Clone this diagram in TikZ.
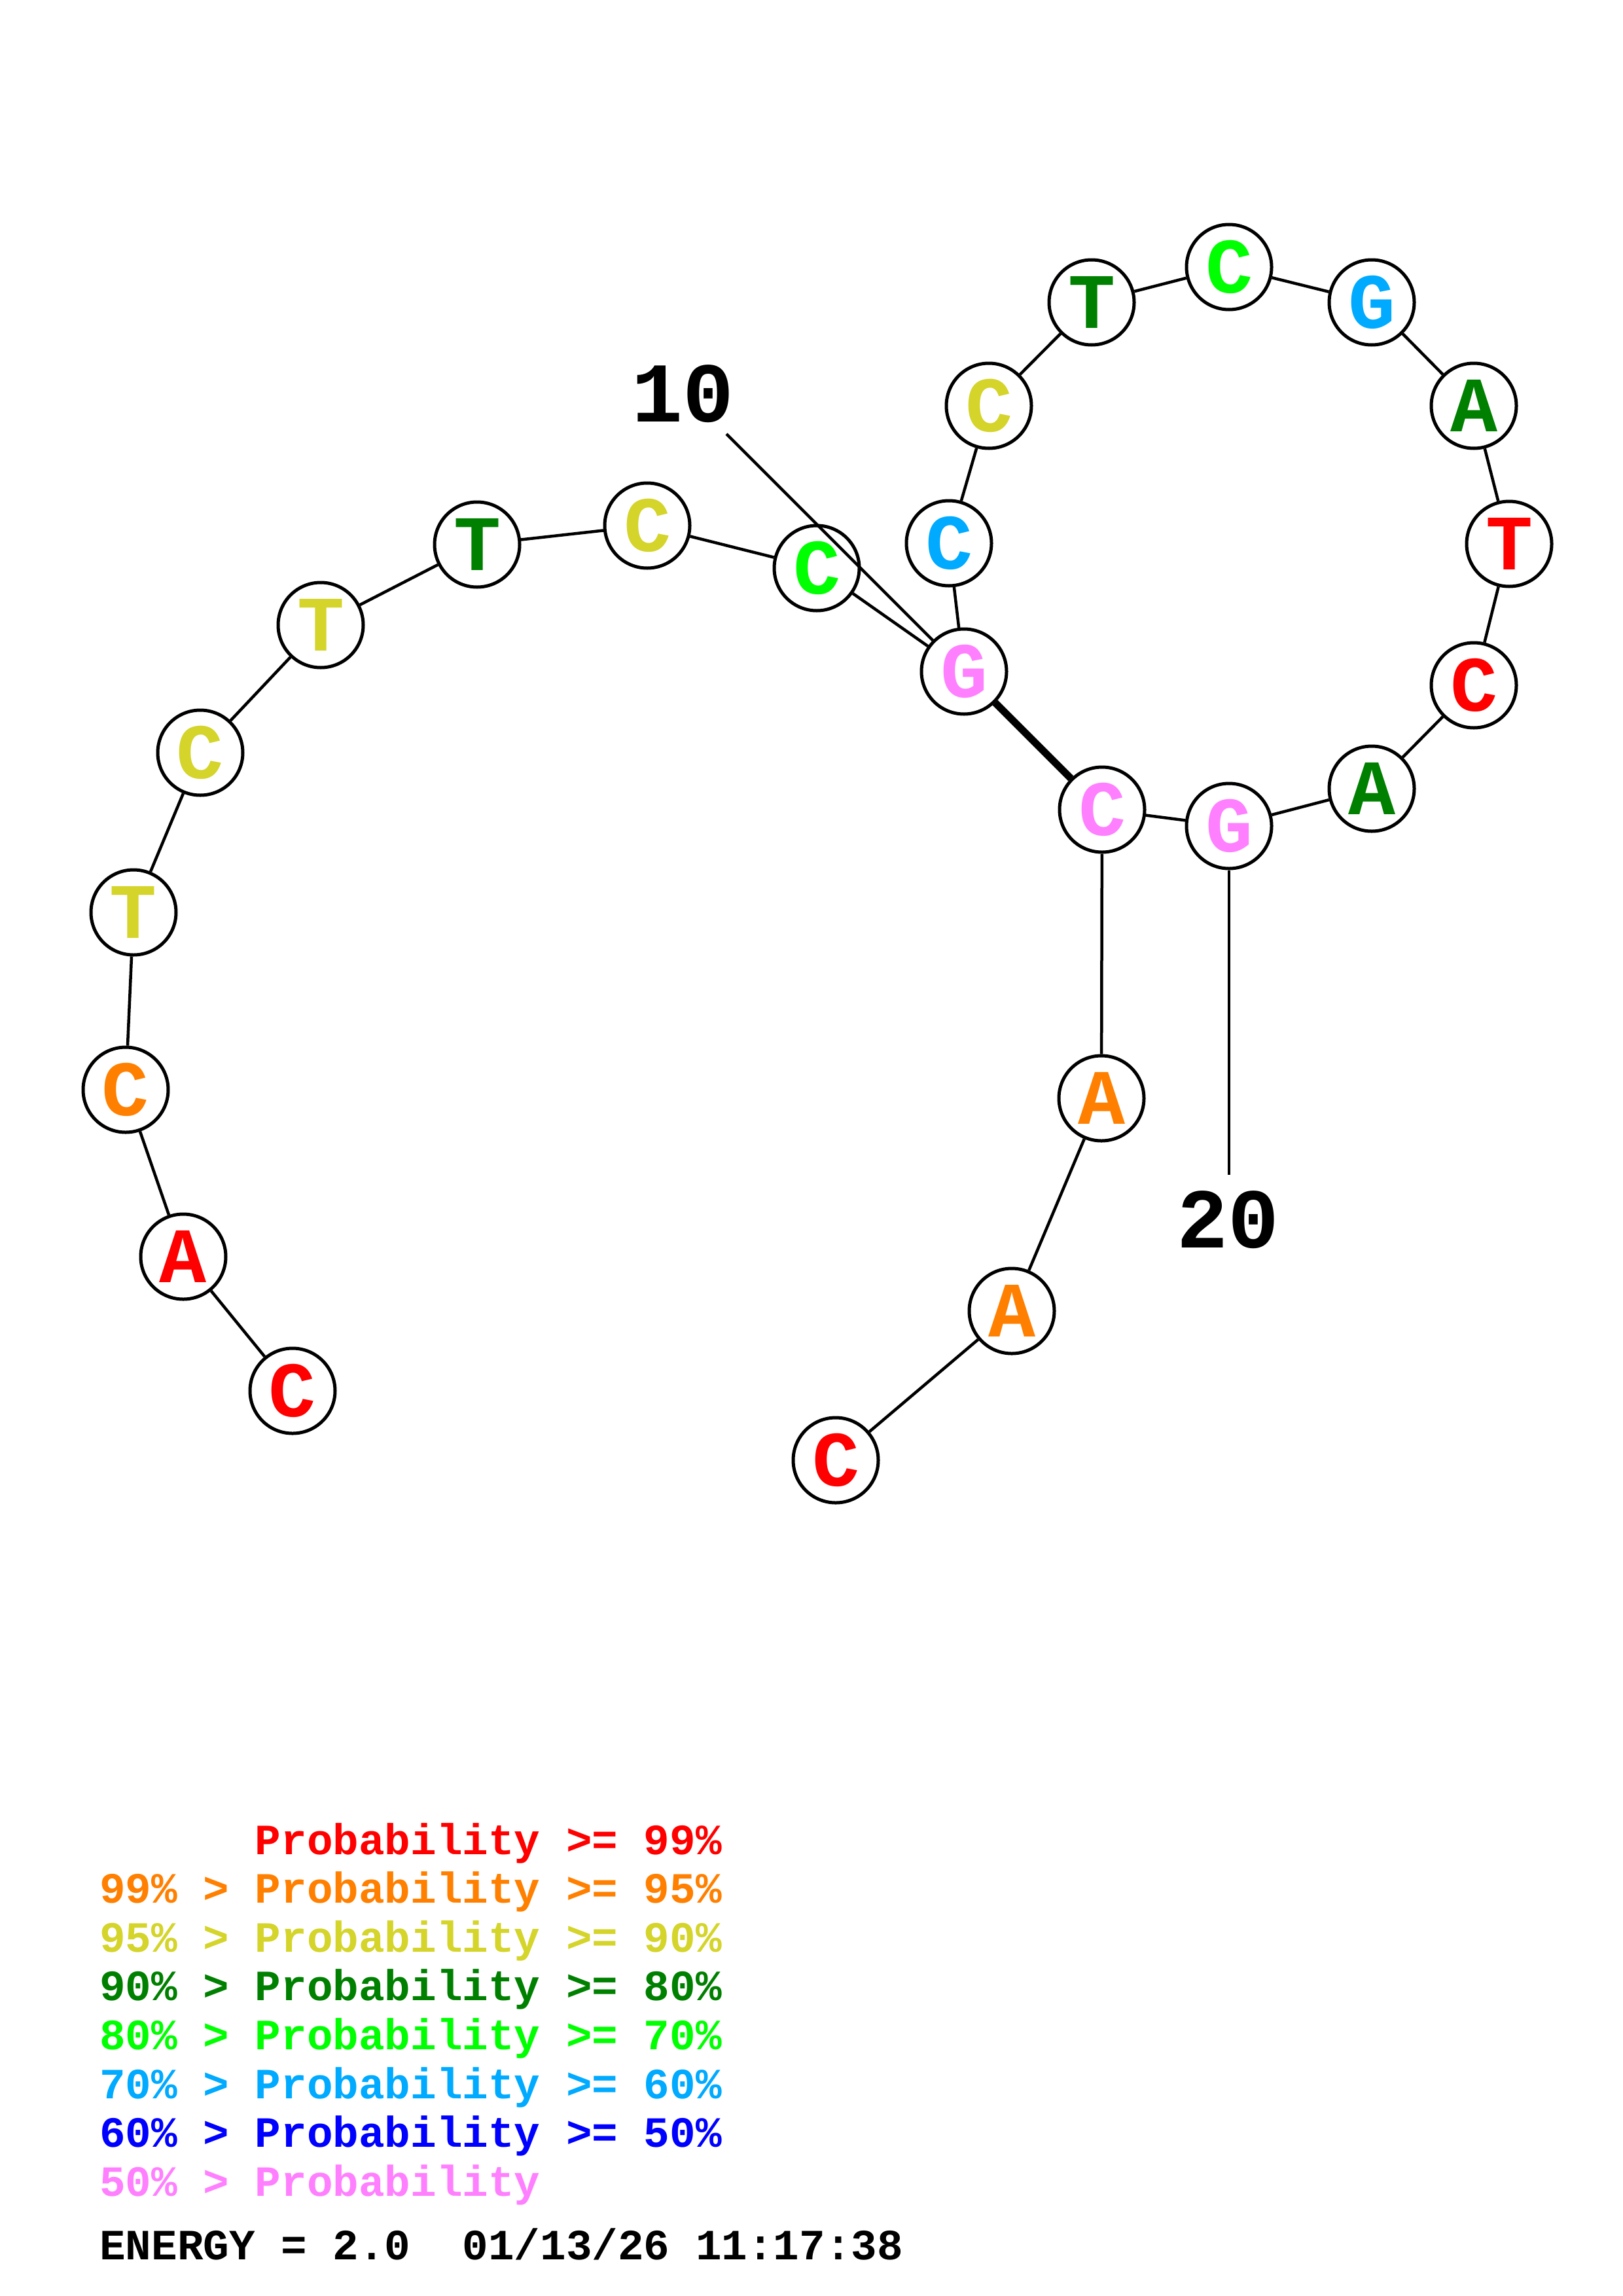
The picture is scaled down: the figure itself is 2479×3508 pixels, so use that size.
\documentclass[tikz,border=0pt]{standalone}
\usepackage{fontspec}
\newfontfamily\cour{Liberation Mono}
\definecolor{pr}{RGB}{255,0,0}
\definecolor{po}{RGB}{255,128,0}
\definecolor{py}{RGB}{212,212,42}
\definecolor{pdg}{RGB}{0,128,0}
\definecolor{pg}{RGB}{0,255,0}
\definecolor{ps}{RGB}{0,170,255}
\definecolor{pb}{RGB}{0,0,255}
\definecolor{pp}{RGB}{255,128,255}
\tikzset{
  base/.style={circle,draw=black,line width=5pt,fill=white,minimum size=130pt,inner sep=0pt,
    font=\cour\bfseries\fontsize{120}{120}\selectfont},
  bb/.style={line width=4.5pt},
  pairline/.style={line width=11pt},
  numlabel/.style={font=\cour\bfseries\fontsize{130}{130}\selectfont},
  legend/.style={anchor=base west,inner sep=0pt,font=\cour\bfseries\fontsize{66}{66}\selectfont}
}
\begin{document}
\begin{tikzpicture}[x=1pt,y=-1pt]
\useasboundingbox[fill=white] (0,0) rectangle (2479,3508);
\node[base,text=pr]  (n1)  at (447,2125) {C};
\node[base,text=pr]  (n2)  at (280,1920) {A};
\node[base,text=po]  (n3)  at (192,1665) {C};
\node[base,text=py]  (n4)  at (204,1394) {T};
\node[base,text=py]  (n5)  at (306,1150) {C};
\node[base,text=py]  (n6)  at (490,955) {T};
\node[base,text=pdg] (n7)  at (729,832) {T};
\node[base,text=py]  (n8)  at (989,803) {C};
\node[base,text=pg]  (n9)  at (1248,868) {C};
\node[base,text=pp]  (n10) at (1473,1026) {G};
\node[base,text=ps]  (n11) at (1450,830) {C};
\node[base,text=py]  (n12) at (1511,620) {C};
\node[base,text=pdg] (n13) at (1668,462) {T};
\node[base,text=pg]  (n14) at (1878,408) {C};
\node[base,text=ps]  (n15) at (2096,462) {G};
\node[base,text=pdg] (n16) at (2252,620) {A};
\node[base,text=pr]  (n17) at (2306,831) {T};
\node[base,text=pr]  (n18) at (2252,1047) {C};
\node[base,text=pdg] (n19) at (2096,1205) {A};
\node[base,text=pp]  (n20) at (1878,1262) {G};
\node[base,text=pp]  (n21) at (1684,1237) {C};
\node[base,text=po]  (n22) at (1683,1678) {A};
\node[base,text=po]  (n23) at (1546,2003) {A};
\node[base,text=pr]  (n24) at (1277,2231) {C};
\foreach \i/\j in {1/2,2/3,3/4,4/5,5/6,6/7,7/8,8/9,9/10,10/11,11/12,12/13,13/14,14/15,15/16,16/17,17/18,18/19,19/20,20/21,21/22,22/23,23/24}
  \draw[bb] (n\i) -- (n\j);
\draw[pairline] (n10) -- (n21);
\coordinate (l10) at (1110,663);
\coordinate (l20) at (1878,1795);
\draw[bb] (l10) -- (n10);
\draw[bb] (n20) -- (l20);
\node[numlabel] (t10) at (1043,602) {10};
\node[numlabel] (t20) at (1876,1864) {20};
\node[legend,text=pr]  (g1) at (152,2833) {\phantom{99\%~>~}Probability >= 99\%};
\node[legend,text=po]  (g2) at (152,2907.6) {99\% > Probability >= 95\%};
\node[legend,text=py]  (g3) at (152,2982.2) {95\% > Probability >= 90\%};
\node[legend,text=pdg] (g4) at (152,3056.8) {90\% > Probability >= 80\%};
\node[legend,text=pg]  (g5) at (152,3131.4) {80\% > Probability >= 70\%};
\node[legend,text=ps]  (g6) at (152,3206) {70\% > Probability >= 60\%};
\node[legend,text=pb]  (g7) at (152,3280.6) {60\% > Probability >= 50\%};
\node[legend,text=pp]  (g8) at (152,3355.2) {50\% > Probability};
\node[legend,text=black] (g9) at (152,3452) {ENERGY = 2.0~~01/13/26 11:17:38};
\end{tikzpicture}
\end{document}
